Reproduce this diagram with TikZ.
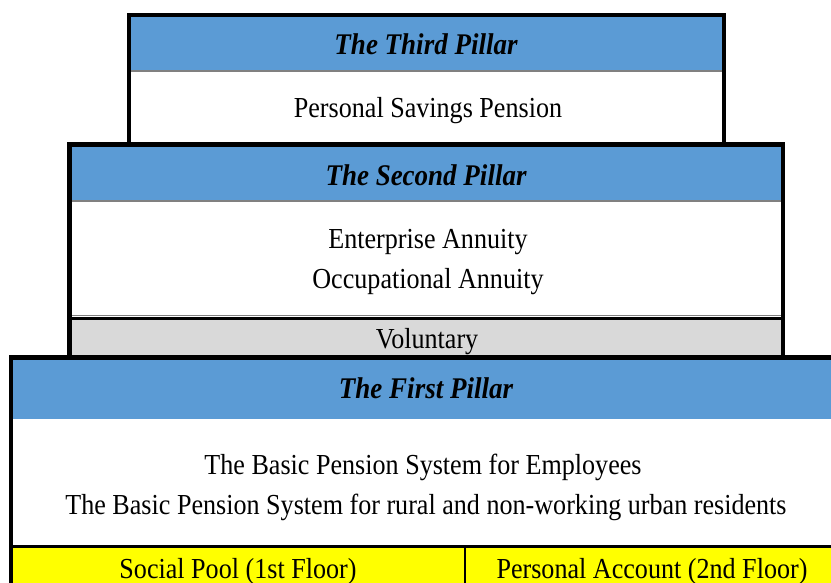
\documentclass[tikz,border=0pt]{standalone}
\usepackage{fontspec}
\setmainfont[FakeStretch=0.9]{Liberation Serif}
\definecolor{pblue}{HTML}{5B9BD5}
\definecolor{pgray}{HTML}{D9D9D9}
\definecolor{pline}{HTML}{808080}
\definecolor{pyellow}{HTML}{FFFF00}
\tikzset{
  title/.style={font=\fontsize{30}{33}\selectfont\bfseries\itshape, inner sep=0pt, anchor=center},
  body/.style={font=\fontsize{29}{33}\selectfont, inner sep=0pt, anchor=center},
  frame/.style={line width=4.5pt, draw=black},
  sep/.style={line width=2pt, draw=pline},
}
\begin{document}
\begin{tikzpicture}[x=1pt,y=-1pt]
\useasboundingbox (0,0) rectangle (831,582);
\begin{scope}
\clip (0,0) rectangle (831,582);
% fills
\fill[pblue] (129,15) rectangle (724,71);
\fill[pblue] (69.5,144) rectangle (783,201);
\fill[pgray] (69.5,317) rectangle (783,357);
\fill[pblue] (11,357) rectangle (840,419);
\fill[pyellow] (11,547) rectangle (840,600);
% separators
\draw[sep] (129,71) -- (724,71);
\draw[sep] (69.5,201) -- (783,201);
\draw[line width=1.5pt, draw=pline] (69.5,315.5) -- (783,315.5);
\draw[line width=3pt] (69.5,318) -- (783,318);
\draw[line width=3pt] (11,546.5) -- (840,546.5);
\draw[line width=1.5pt] (465,547) -- (465,600);
% frames
\draw[frame] (129,144) -- (129,15) -- (724,15) -- (724,144);
\draw[frame] (69.5,357.5) -- (69.5,144.5) -- (783,144.5) -- (783,357.5);
\draw[frame] (11,600) -- (11,357.5) -- (840,357.5);
\end{scope}
% texts
\node[title] (t3) at (426,44) {The Third Pillar};
\node[body] (b3) at (428,111) {Personal Savings Pension};
\node[title] (t2) at (426,175) {The Second Pillar};
\node[body] (b2a) at (428,242) {Enterprise Annuity};
\node[body] (b2b) at (428,282) {Occupational Annuity};
\node[body] (vol) at (427,342) {Voluntary};
\node[title] (t1) at (426,388) {The First Pillar};
\node[body] (b1a) at (423,467) {The Basic Pension System for Employees};
\node[body] (b1b) at (426,507) {The Basic Pension System for rural and non-working urban residents};
\node[body] (sp) at (238,572) {Social Pool (1st Floor)};
\node[body] (pa) at (652,572) {Personal Account (2nd Floor)};
\end{tikzpicture}
\end{document}
